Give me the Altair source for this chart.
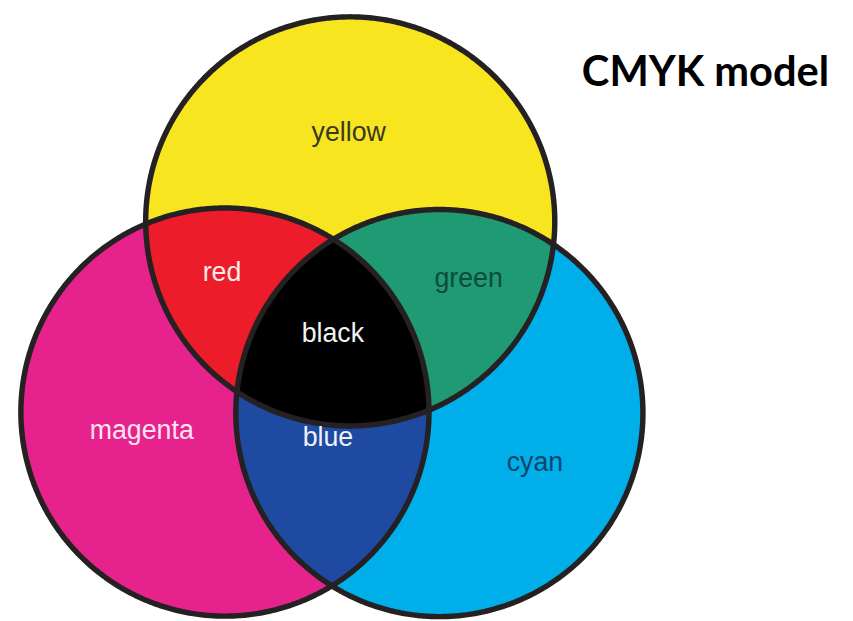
import numpy as np
import pandas as pd
import altair as alt

# ---- data (page pixel coordinates) ----
circle_names = ["yellow", "magenta", "cyan"]
circle_cx = [353.5, 227.0, 443.5]
circle_cy = [220.5, 413.0, 414.0]
circle_r = [206.5, 206.0, 205.5]

region_names = ["yellow", "magenta", "cyan", "red", "green", "blue", "black"]
region_members = [[0], [1], [2], [0, 1], [0, 2], [1, 2], [0, 1, 2]]
region_colors = ["#f7e51f", "#e6238d", "#00aeea", "#ec1c2a", "#1f9a72", "#1e4aa1", "#000000"]

label_text = ["yellow", "red", "green", "black", "magenta", "blue", "cyan"]
label_x = [352, 224, 473, 336, 143, 331, 540]
label_y = [139, 281, 287, 342, 440, 447, 473]
label_color = ["#3a3820", "#fbeaea", "#0e4a3a", "#f2f2f2", "#fde2f0", "#eef0fa", "#0f4669"]

title_text = ["CMYK model"]
title_x = [837]
title_y = [84]

# ---- geometry derived from the circle data ----
cx = np.array(circle_cx)
cy = np.array(circle_cy)
rr = np.array(circle_r)


def inside(px, py, i, tol=0.5):
    return (px - cx[i]) ** 2 + (py - cy[i]) ** 2 <= (rr[i] + tol) ** 2


def pair_points(i, j):
    d = np.hypot(cx[j] - cx[i], cy[j] - cy[i])
    a = (rr[i] ** 2 - rr[j] ** 2 + d ** 2) / (2 * d)
    h = np.sqrt(max(rr[i] ** 2 - a ** 2, 0))
    mx = cx[i] + a * (cx[j] - cx[i]) / d
    my = cy[i] + a * (cy[j] - cy[i]) / d
    ox = -(cy[j] - cy[i]) / d * h
    oy = (cx[j] - cx[i]) / d * h
    return [(mx + ox, my + oy), (mx - ox, my - oy)]


def region_polygon(members):
    pts = []
    t = np.linspace(0, 2 * np.pi, 1440, endpoint=False)
    for i in members:
        xs = cx[i] + rr[i] * np.cos(t)
        ys = cy[i] + rr[i] * np.sin(t)
        for x, y in zip(xs, ys):
            if all(inside(x, y, k) for k in members if k != i):
                pts.append((x, y))
    for a in range(len(members)):
        for b in range(a + 1, len(members)):
            for (x, y) in pair_points(members[a], members[b]):
                if all(inside(x, y, k, 1.0) for k in members):
                    pts.append((x, y))
    pts = np.array(pts)
    c = pts.mean(axis=0)
    ang = np.arctan2(pts[:, 1] - c[1], pts[:, 0] - c[0])
    pts = pts[np.argsort(ang)]
    return pts


rows = []
for name, mem, col in zip(region_names, region_members, region_colors):
    poly = region_polygon(mem)
    for k, (x, y) in enumerate(poly):
        rows.append({"region": name, "level": len(mem), "i": k, "x": x, "y": y})
regions = pd.DataFrame(rows)

orows = []
t = np.linspace(0, 2 * np.pi, 721)
for n, (a, b, r) in enumerate(zip(circle_cx, circle_cy, circle_r)):
    for k, tt in enumerate(t):
        orows.append({"circle": circle_names[n], "i": k,
                      "x": a + r * np.cos(tt), "y": b + r * np.sin(tt)})
outlines = pd.DataFrame(orows)

labels = pd.DataFrame({"text": label_text, "x": label_x, "y": label_y, "c": label_color})
title = pd.DataFrame({"text": title_text, "x": title_x, "y": title_y})

xs = alt.Scale(domain=[8, 853], nice=False, zero=False)
ys = alt.Scale(domain=[8, 621], nice=False, zero=False, reverse=True)
X = alt.X("x:Q", scale=xs, axis=None)
Y = alt.Y("y:Q", scale=ys, axis=None)
fill_scale = alt.Scale(domain=region_names, range=region_colors)


def fills(level):
    return alt.Chart(regions).transform_filter(alt.datum.level == level).mark_line(
        filled=True, strokeWidth=0
    ).encode(
        x=X, y=Y, order="i:Q", detail="region:N",
        color=alt.Color("region:N", scale=fill_scale, legend=None),
    )


outline_layer = alt.Chart(outlines).mark_line(
    color="#252122", strokeWidth=5.5
).encode(x=X, y=Y, order="i:Q", detail="circle:N")

text_layer = alt.Chart(labels).mark_text(
    font="Liberation Sans", fontSize=27, align="center", baseline="alphabetic"
).encode(x=X, y=Y, text="text:N", color=alt.Color("c:N", scale=None))

title_layer = alt.Chart(title).mark_text(
    font="Lato", fontWeight="bold", fontSize=42, align="right",
    baseline="alphabetic", color="#000000"
).encode(x=X, y=Y, text="text:N")

chart = alt.layer(
    fills(1), fills(2), fills(3), outline_layer, text_layer, title_layer
).resolve_scale(color="independent").properties(
    width=845, height=613, padding=0, autosize="none", background="white"
).configure_view(stroke=None)

chart.save("out.html", embed_options={"renderer": "svg", "actions": False})
